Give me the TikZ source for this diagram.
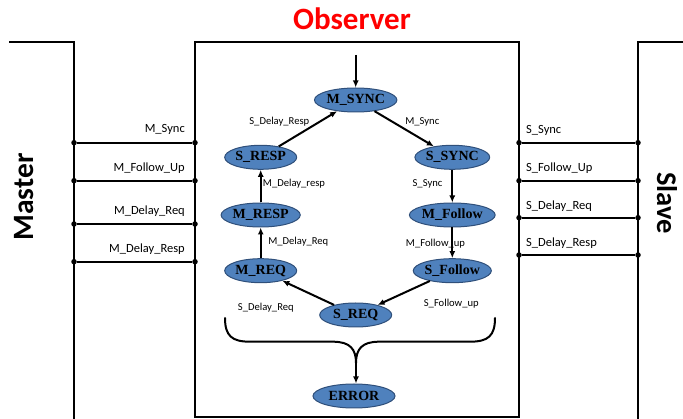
\documentclass[tikz,border=0pt]{standalone}
\usepackage{fontspec}
\setmainfont{Liberation Serif}
\newfontfamily\labelfont{Carlito}
\usetikzlibrary{shapes.geometric,arrows.meta}
\definecolor{stateblue}{HTML}{4F81BD}
\definecolor{stateedge}{HTML}{2F4F7A}
\definecolor{titlered}{HTML}{FF0000}
\tikzset{
  state/.style={ellipse,draw=stateedge,line width=1pt,fill=stateblue,
    minimum width=72pt,minimum height=24pt,inner sep=0pt,
    font=\fontsize{14}{15}\selectfont\bfseries},
  trans/.style={line width=2pt,-{Latex[length=7pt,width=6pt]}},
  tlabel/.style={font=\labelfont\fontsize{10.6}{11}\selectfont,inner sep=0pt},
  sidelabel/.style={font=\labelfont\fontsize{12.5}{13}\selectfont,inner sep=0pt},
  frame/.style={line width=2.2pt},
  bus/.style={line width=2pt},
  dot/.style={circle,fill=black,inner sep=0pt,minimum size=5.5pt},
  brace/.style={line width=2pt,line cap=round}
}
\begin{document}
\begin{tikzpicture}[x=1pt,y=-1pt]
\useasboundingbox (0,0) rectangle (683,419);

% title
\node[text=titlered,font=\labelfont\fontsize{31}{33}\selectfont\bfseries] (title) at (352,19) {Observer};

% Master, Observer and Slave frames
\draw[frame] (9,41.7) -- (74,41.7) -- (74,419);
\draw[frame] (195,41.7) rectangle (519,416.7);
\draw[frame] (683,41.7) -- (638,41.7) -- (638,419);
\node[rotate=90,font=\labelfont\fontsize{29.5}{31}\selectfont\bfseries] (master) at (24,197) {Master};
\node[rotate=-90,font=\labelfont\fontsize{28.5}{30}\selectfont\bfseries] (slave) at (667,203) {Slave};

% master side signal lines
\foreach \i/\y in {1/142.7,2/180.7,3/224,4/261.7}{
  \node[dot] (ma\i) at (74,\y) {};
  \node[dot] (mb\i) at (195,\y) {};
  \draw[bus] (ma\i) -- (mb\i);
}
\node[sidelabel,anchor=east] (lm1) at (185,129.5) {M\_Sync};
\node[sidelabel,anchor=east] (lm2) at (185,167.7) {M\_Follow\_Up};
\node[sidelabel,anchor=east] (lm3) at (185,210.7) {M\_Delay\_Req};
\node[sidelabel,anchor=east] (lm4) at (185,249) {M\_Delay\_Resp};

% slave side signal lines
\foreach \i/\y in {1/142.7,2/180.7,3/217.7,4/255}{
  \node[dot] (sa\i) at (519,\y) {};
  \node[dot] (sb\i) at (638,\y) {};
  \draw[bus] (sa\i) -- (sb\i);
}
\node[sidelabel,anchor=west] (ls1) at (526,130) {S\_Sync};
\node[sidelabel,anchor=west] (ls2) at (526,167.7) {S\_Follow\_Up};
\node[sidelabel,anchor=west] (ls3) at (526,206) {S\_Delay\_Req};
\node[sidelabel,anchor=west] (ls4) at (526,243) {S\_Delay\_Resp};

% states
\node[state] (msync)   at (355.7,100)   {M\_SYNC};
\node[state] (sresp)   at (260.7,157.3) {S\_RESP};
\node[state] (ssync)   at (452.3,157.3) {S\_SYNC};
\node[state] (mresp)   at (260.7,215)   {M\_RESP};
\node[state] (mfollow) at (452.3,215)   {M\_Follow};
\node[state] (mreq)    at (260.7,270.7) {M\_REQ};
\node[state] (sfollow) at (452.3,270.7) {S\_Follow};
\node[state] (sreq)    at (355.7,315)   {S\_REQ};
\node[state,minimum width=82pt] (error) at (354,396) {ERROR};

% transitions
\coordinate (start) at (355.7,55);
\draw[trans] (start) -- (msync);
\draw[trans] (msync) -- (ssync);
\draw[trans] (ssync) -- (mfollow);
\draw[trans] (mfollow) -- (sfollow);
\draw[trans] (sfollow) -- (sreq);
\draw[trans] (sreq) -- (mreq);
\draw[trans] (mreq) -- (mresp);
\draw[trans] (mresp) -- (sresp);
\draw[trans] (sresp) -- (msync);

\node[tlabel] (t1) at (279.3,121.7) {S\_Delay\_Resp};
\node[tlabel] (t2) at (422.3,121.7) {M\_Sync};
\node[tlabel] (t3) at (294,184)     {M\_Delay\_resp};
\node[tlabel] (t4) at (427.5,184)   {S\_Sync};
\node[tlabel] (t5) at (298.3,241.7) {M\_Delay\_Req};
\node[tlabel] (t6) at (435.5,243.3) {M\_Follow\_up};
\node[tlabel] (t7) at (265.8,307.3) {S\_Delay\_Req};
\node[tlabel] (t8) at (451.3,303.3) {S\_Follow\_up};

% brace collecting every state into ERROR
\coordinate (bl) at (225,318);
\coordinate (br) at (495,318);
\coordinate (cusp) at (356,363);
\draw[brace] (bl) .. controls (225,336) and (232,341.7) .. (250,341.7)
  -- (333,341.7) .. controls (350,341.7) and (356,349) .. (cusp);
\draw[brace] (br) .. controls (495,336) and (488,341.7) .. (470,341.7)
  -- (379,341.7) .. controls (362,341.7) and (356,349) .. (cusp);
\draw[trans] (cusp) -- (cusp |- error.north);
\end{tikzpicture}
\end{document}
